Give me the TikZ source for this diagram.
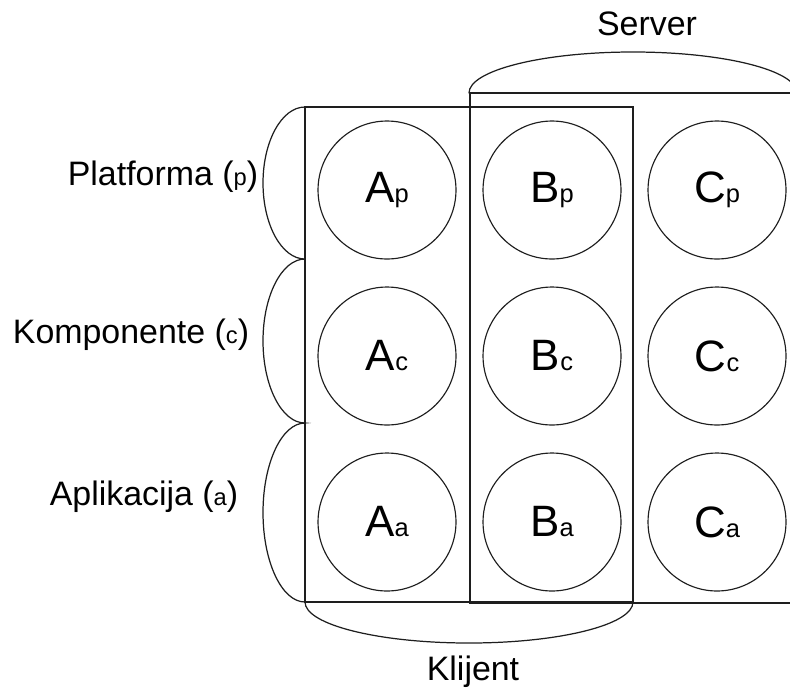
\documentclass[tikz,border=0pt]{standalone}
\usepackage{fontspec}
\setmainfont{Liberation Sans}
\usetikzlibrary{calc,positioning}
\definecolor{sketchline}{RGB}{30,30,30}
\newcommand{\smallidx}[1]{{\fontsize{13.5}{15}\selectfont #1}}
\newcommand{\circidx}[1]{{\fontsize{14.5}{16}\selectfont #1}}

\begin{document}
\begin{tikzpicture}[x=0.02cm,y=0.02cm,line cap=round,
 layer/.style={draw=sketchline,circle,line width=.65pt,minimum size=2.76cm,inner sep=0pt,
  font=\fontsize{25}{30}\selectfont},
 lbl/.style={anchor=base,inner sep=0pt,font=\fontsize{19.3}{23}\selectfont},
 frame/.style={draw=sketchline,line width=.8pt},
 bracket/.style={draw=sketchline,line width=.7pt}]
\useasboundingbox (0,0) rectangle (790,-687);
\clip (0,0) rectangle (790,-687);
% server and client boxes
\draw[frame] (800,-93) -- (470,-93) -- (470,-603) -- (800,-603);
\draw[frame] (305,-107) rectangle (633,-602);
% brackets
\draw[bracket] (469,-93) arc[start angle=180,end angle=0,x radius=164,y radius=41];
\draw[bracket] (305,-602) arc[start angle=180,end angle=360,x radius=164,y radius=41];
\draw[bracket] (305,-107) arc[start angle=90,end angle=270,x radius=42,y radius=76]
 arc[start angle=90,end angle=270,x radius=42,y radius=82]
 arc[start angle=90,end angle=270,x radius=42,y radius=89.5];
% layers
\foreach \col/\cx in {A/387,B/552,C/717}
 \foreach \row/\cy in {p/190,c/356,a/522}
  \node[layer] (\col\row) at (\cx,-\cy) {\col\circidx{\row}};
\node[lbl] (platforma) at (163,-185) {Platforma (\smallidx{p})};
\node[lbl] (komponente) at (131,-343) {Komponente (\smallidx{c})};
\node[lbl] (aplikacija) at (144,-505) {Aplikacija (\smallidx{a})};
\node[lbl] (server) at (647,-35) {Server};
\node[lbl] (klijent) at (473,-680) {Klijent};
\end{tikzpicture}
\end{document}
